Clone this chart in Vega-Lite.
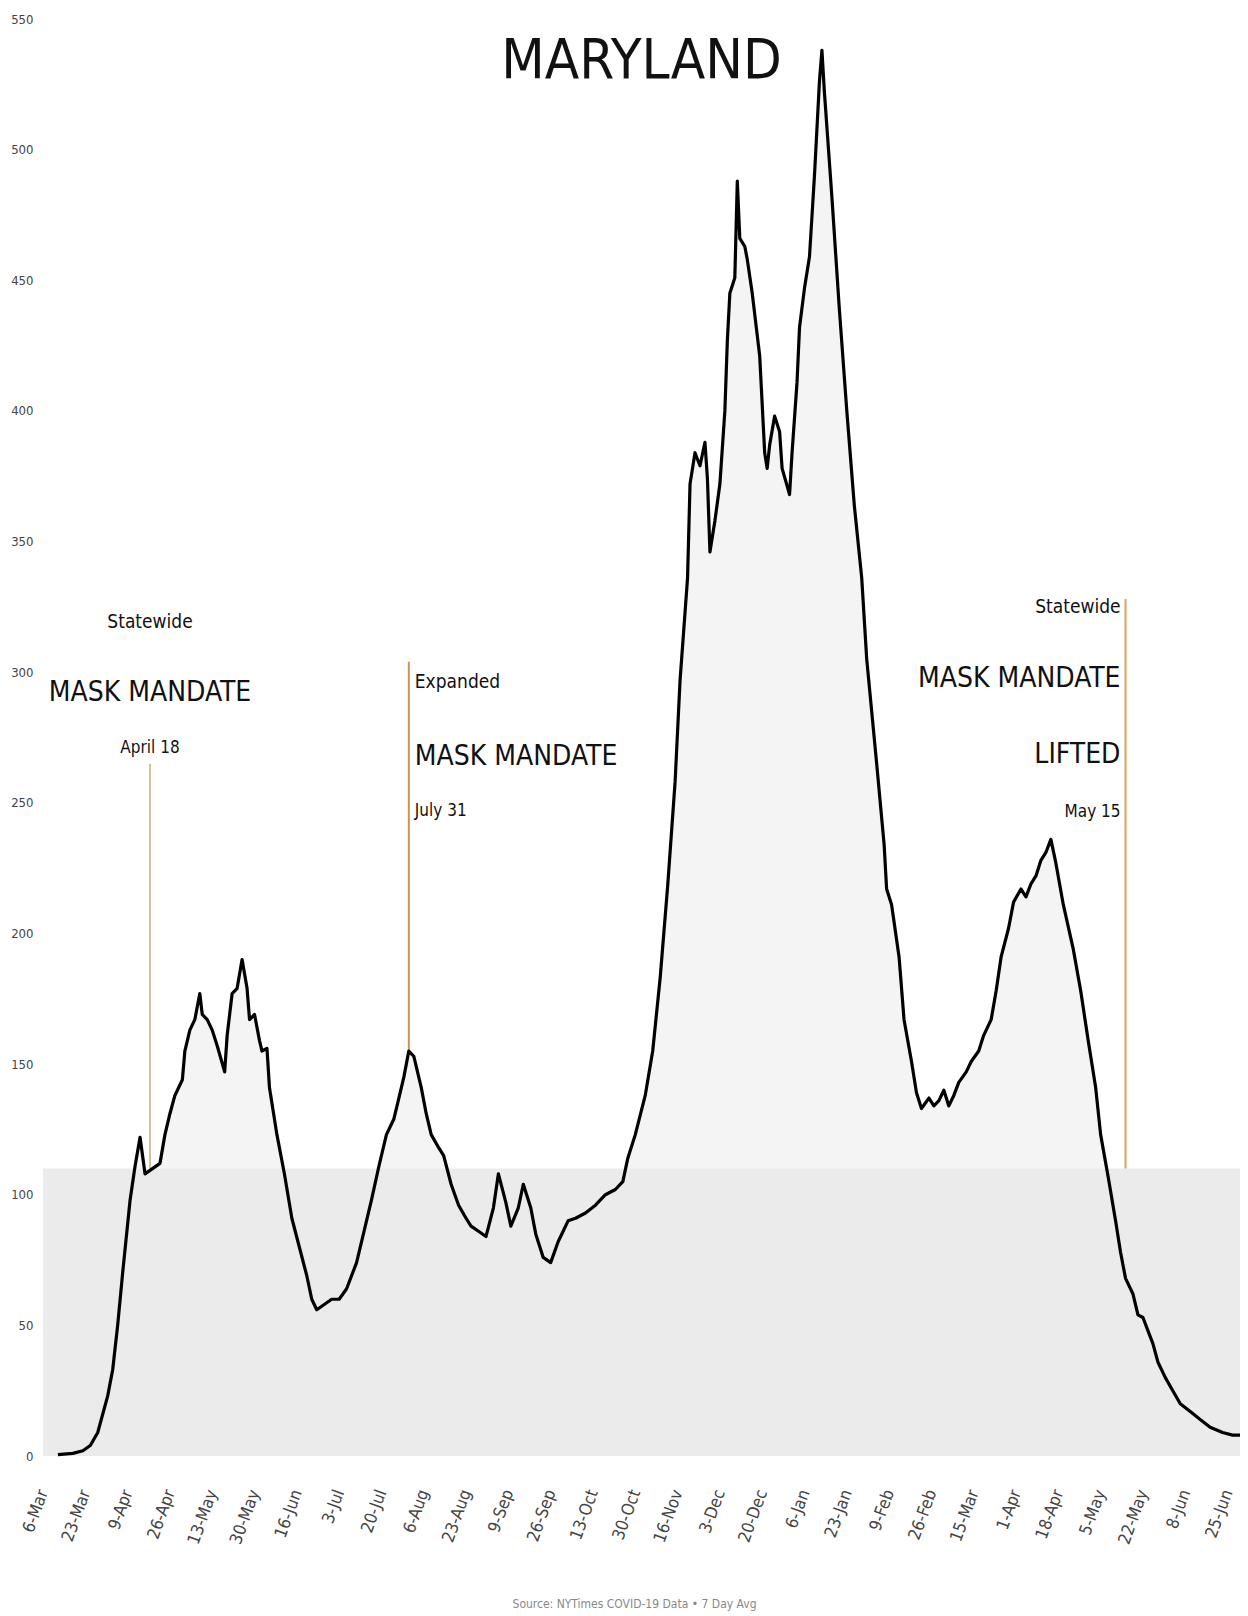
{
  "$schema": "https://vega.github.io/schema/vega-lite/v6.json",
  "autosize": "none",
  "width": 1197,
  "height": 1437,
  "padding": {"left": 43, "top": 19, "right": 8, "bottom": 160},
  "background": "white",
  "config": {"view": {"stroke": null}, "font": "DejaVu Sans Condensed, Liberation Sans, sans-serif"},
  "title": {"text": "MARYLAND", "font": "DejaVu Sans Condensed, Liberation Sans, sans-serif", "fontSize": 56, "fontWeight": "normal", "color": "#111", "anchor": "middle", "baseline": "alphabetic", "offset": -121},
  "datasets": {
    "cases": [
      {"date": "2020-03-12", "v": 0.5}, {"date": "2020-03-18", "v": 1}, {"date": "2020-03-22", "v": 2}, {"date": "2020-03-25", "v": 4}, {"date": "2020-03-28", "v": 9},
      {"date": "2020-04-01", "v": 23}, {"date": "2020-04-03", "v": 33}, {"date": "2020-04-05", "v": 50}, {"date": "2020-04-07", "v": 70}, {"date": "2020-04-10", "v": 98},
      {"date": "2020-04-12", "v": 111}, {"date": "2020-04-14", "v": 122}, {"date": "2020-04-16", "v": 108}, {"date": "2020-04-19", "v": 110}, {"date": "2020-04-22", "v": 112},
      {"date": "2020-04-24", "v": 123}, {"date": "2020-04-26", "v": 131}, {"date": "2020-04-28", "v": 138}, {"date": "2020-05-01", "v": 144}, {"date": "2020-05-02", "v": 155},
      {"date": "2020-05-04", "v": 163}, {"date": "2020-05-06", "v": 167}, {"date": "2020-05-08", "v": 177}, {"date": "2020-05-09", "v": 169}, {"date": "2020-05-11", "v": 167},
      {"date": "2020-05-13", "v": 163}, {"date": "2020-05-15", "v": 157}, {"date": "2020-05-18", "v": 147}, {"date": "2020-05-19", "v": 161}, {"date": "2020-05-21", "v": 177},
      {"date": "2020-05-23", "v": 179}, {"date": "2020-05-25", "v": 190}, {"date": "2020-05-27", "v": 179}, {"date": "2020-05-28", "v": 167}, {"date": "2020-05-30", "v": 169},
      {"date": "2020-06-01", "v": 159}, {"date": "2020-06-02", "v": 155}, {"date": "2020-06-04", "v": 156}, {"date": "2020-06-05", "v": 141}, {"date": "2020-06-08", "v": 123},
      {"date": "2020-06-11", "v": 108}, {"date": "2020-06-14", "v": 91}, {"date": "2020-06-17", "v": 80}, {"date": "2020-06-20", "v": 69}, {"date": "2020-06-22", "v": 60},
      {"date": "2020-06-24", "v": 56}, {"date": "2020-06-27", "v": 58}, {"date": "2020-06-30", "v": 60}, {"date": "2020-07-03", "v": 60}, {"date": "2020-07-06", "v": 64},
      {"date": "2020-07-10", "v": 74}, {"date": "2020-07-13", "v": 86}, {"date": "2020-07-16", "v": 98}, {"date": "2020-07-19", "v": 111}, {"date": "2020-07-22", "v": 123},
      {"date": "2020-07-25", "v": 129}, {"date": "2020-07-27", "v": 137}, {"date": "2020-07-29", "v": 145}, {"date": "2020-07-31", "v": 155}, {"date": "2020-08-02", "v": 153},
      {"date": "2020-08-03", "v": 149}, {"date": "2020-08-05", "v": 141}, {"date": "2020-08-07", "v": 131}, {"date": "2020-08-09", "v": 123}, {"date": "2020-08-12", "v": 118},
      {"date": "2020-08-14", "v": 115}, {"date": "2020-08-17", "v": 104}, {"date": "2020-08-20", "v": 96}, {"date": "2020-08-23", "v": 91}, {"date": "2020-08-25", "v": 88},
      {"date": "2020-08-28", "v": 86}, {"date": "2020-08-31", "v": 84}, {"date": "2020-09-03", "v": 95}, {"date": "2020-09-05", "v": 108}, {"date": "2020-09-08", "v": 97},
      {"date": "2020-09-10", "v": 88}, {"date": "2020-09-13", "v": 95}, {"date": "2020-09-15", "v": 104}, {"date": "2020-09-18", "v": 95}, {"date": "2020-09-20", "v": 85},
      {"date": "2020-09-23", "v": 76}, {"date": "2020-09-26", "v": 74}, {"date": "2020-09-29", "v": 82}, {"date": "2020-10-03", "v": 90}, {"date": "2020-10-06", "v": 91},
      {"date": "2020-10-10", "v": 93}, {"date": "2020-10-14", "v": 96}, {"date": "2020-10-18", "v": 100}, {"date": "2020-10-22", "v": 102}, {"date": "2020-10-25", "v": 105},
      {"date": "2020-10-27", "v": 114}, {"date": "2020-10-30", "v": 123}, {"date": "2020-11-03", "v": 138}, {"date": "2020-11-06", "v": 155}, {"date": "2020-11-09", "v": 183},
      {"date": "2020-11-12", "v": 218}, {"date": "2020-11-15", "v": 258}, {"date": "2020-11-17", "v": 297}, {"date": "2020-11-20", "v": 336}, {"date": "2020-11-21", "v": 372},
      {"date": "2020-11-23", "v": 384}, {"date": "2020-11-25", "v": 379}, {"date": "2020-11-27", "v": 388}, {"date": "2020-11-28", "v": 374}, {"date": "2020-11-29", "v": 346},
      {"date": "2020-12-01", "v": 358}, {"date": "2020-12-03", "v": 372}, {"date": "2020-12-05", "v": 400}, {"date": "2020-12-06", "v": 427}, {"date": "2020-12-07", "v": 445},
      {"date": "2020-12-09", "v": 451}, {"date": "2020-12-10", "v": 488}, {"date": "2020-12-11", "v": 466}, {"date": "2020-12-13", "v": 463}, {"date": "2020-12-14", "v": 458},
      {"date": "2020-12-16", "v": 445}, {"date": "2020-12-19", "v": 421}, {"date": "2020-12-21", "v": 384}, {"date": "2020-12-22", "v": 378}, {"date": "2020-12-23", "v": 387},
      {"date": "2020-12-25", "v": 398}, {"date": "2020-12-27", "v": 392}, {"date": "2020-12-28", "v": 378}, {"date": "2020-12-31", "v": 368}, {"date": "2021-01-01", "v": 384},
      {"date": "2021-01-03", "v": 411}, {"date": "2021-01-04", "v": 432}, {"date": "2021-01-06", "v": 447}, {"date": "2021-01-08", "v": 459}, {"date": "2021-01-10", "v": 490},
      {"date": "2021-01-12", "v": 526}, {"date": "2021-01-13", "v": 538}, {"date": "2021-01-14", "v": 522}, {"date": "2021-01-17", "v": 482}, {"date": "2021-01-20", "v": 439},
      {"date": "2021-01-23", "v": 400}, {"date": "2021-01-26", "v": 364}, {"date": "2021-01-29", "v": 336}, {"date": "2021-01-31", "v": 305}, {"date": "2021-02-04", "v": 265},
      {"date": "2021-02-07", "v": 234}, {"date": "2021-02-08", "v": 217}, {"date": "2021-02-10", "v": 211}, {"date": "2021-02-13", "v": 191}, {"date": "2021-02-15", "v": 167},
      {"date": "2021-02-18", "v": 151}, {"date": "2021-02-20", "v": 139}, {"date": "2021-02-22", "v": 133}, {"date": "2021-02-25", "v": 137}, {"date": "2021-02-27", "v": 134},
      {"date": "2021-03-01", "v": 136}, {"date": "2021-03-03", "v": 140}, {"date": "2021-03-05", "v": 134}, {"date": "2021-03-07", "v": 138}, {"date": "2021-03-09", "v": 143},
      {"date": "2021-03-12", "v": 147}, {"date": "2021-03-14", "v": 151}, {"date": "2021-03-17", "v": 155}, {"date": "2021-03-19", "v": 161}, {"date": "2021-03-22", "v": 167},
      {"date": "2021-03-24", "v": 178}, {"date": "2021-03-26", "v": 191}, {"date": "2021-03-29", "v": 202}, {"date": "2021-03-31", "v": 212}, {"date": "2021-04-03", "v": 217},
      {"date": "2021-04-05", "v": 214}, {"date": "2021-04-07", "v": 219}, {"date": "2021-04-09", "v": 222}, {"date": "2021-04-11", "v": 228}, {"date": "2021-04-13", "v": 231},
      {"date": "2021-04-15", "v": 236}, {"date": "2021-04-17", "v": 227}, {"date": "2021-04-20", "v": 211}, {"date": "2021-04-24", "v": 194}, {"date": "2021-04-27", "v": 178},
      {"date": "2021-04-30", "v": 159}, {"date": "2021-05-03", "v": 141}, {"date": "2021-05-05", "v": 123}, {"date": "2021-05-08", "v": 107}, {"date": "2021-05-11", "v": 90},
      {"date": "2021-05-13", "v": 78}, {"date": "2021-05-15", "v": 68}, {"date": "2021-05-18", "v": 62}, {"date": "2021-05-20", "v": 54}, {"date": "2021-05-22", "v": 53},
      {"date": "2021-05-24", "v": 48}, {"date": "2021-05-26", "v": 43}, {"date": "2021-05-28", "v": 36}, {"date": "2021-05-31", "v": 30}, {"date": "2021-06-03", "v": 25},
      {"date": "2021-06-06", "v": 20}, {"date": "2021-06-10", "v": 17}, {"date": "2021-06-14", "v": 14}, {"date": "2021-06-18", "v": 11}, {"date": "2021-06-23", "v": 9},
      {"date": "2021-06-27", "v": 8}, {"date": "2021-06-30", "v": 8}
    ],
    "events": [
      {"date": "2020-04-18", "top": 265, "event": "Statewide mask mandate"},
      {"date": "2020-07-31", "top": 304, "event": "Expanded mask mandate"},
      {"date": "2021-05-15", "top": 328, "event": "Mask mandate lifted"}
    ],
    "band": [
      {"start": "2020-03-06", "end": "2021-06-30", "low": 0, "high": 110}
    ],
    "notes": [
      {"date": "2020-04-18", "value": 317, "label": "Statewide", "side": "left", "kind": "small"},
      {"date": "2020-04-18", "value": 289, "label": "MASK MANDATE", "side": "left", "kind": "big"},
      {"date": "2020-04-18", "value": 269, "label": "April 18", "side": "left", "kind": "date"},
      {"date": "2020-07-31", "value": 294, "label": "Expanded", "side": "mid", "kind": "small"},
      {"date": "2020-07-31", "value": 264.5, "label": "MASK MANDATE", "side": "mid", "kind": "big"},
      {"date": "2020-07-31", "value": 245, "label": "July 31", "side": "mid", "kind": "date"},
      {"date": "2021-05-15", "value": 322.7, "label": "Statewide", "side": "right", "kind": "small"},
      {"date": "2021-05-15", "value": 294.3, "label": "MASK MANDATE", "side": "right", "kind": "big"},
      {"date": "2021-05-15", "value": 265.2, "label": "LIFTED", "side": "right", "kind": "big"},
      {"date": "2021-05-15", "value": 244.6, "label": "May 15", "side": "right", "kind": "date"}
    ]
  },
  "layer": [
    {
      "data": {"name": "events"},
      "mark": {"type": "rule", "strokeWidth": 2},
      "encoding": {
        "x": {"field": "date", "type": "temporal"},
        "y": {"field": "top", "type": "quantitative"},
        "y2": {"datum": 0},
        "color": {"field": "event", "type": "nominal", "legend": null,
          "scale": {"domain": ["Statewide mask mandate", "Expanded mask mandate", "Mask mandate lifted"], "range": ["#c9c59b", "#d4904e", "#e0a25c"]}}
      }
    },
    {
      "data": {"name": "cases"},
      "mark": {"type": "area", "color": "#f4f4f4", "interpolate": "linear"},
      "encoding": {
        "x": {"field": "date", "type": "temporal"},
        "y": {"field": "v", "type": "quantitative"}
      }
    },
    {
      "data": {"name": "band"},
      "mark": {"type": "rect", "color": "#ebebeb"},
      "encoding": {
        "x": {"field": "start", "type": "temporal"},
        "x2": {"field": "end"},
        "y": {"field": "low", "type": "quantitative"},
        "y2": {"field": "high"}
      }
    },
    {
      "data": {"name": "cases"},
      "mark": {"type": "line", "color": "#000000", "strokeWidth": 3.2, "strokeJoin": "round"},
      "encoding": {
        "x": {"field": "date", "type": "temporal",
          "scale": {"domain": [{"year": 2020, "month": 3, "date": 6}, {"year": 2021, "month": 6, "date": 30}], "nice": false},
          "axis": {
            "values": [
              {"year": 2020, "month": 3, "date": 6}, {"year": 2020, "month": 3, "date": 23}, {"year": 2020, "month": 4, "date": 9}, {"year": 2020, "month": 4, "date": 26},
              {"year": 2020, "month": 5, "date": 13}, {"year": 2020, "month": 5, "date": 30}, {"year": 2020, "month": 6, "date": 16}, {"year": 2020, "month": 7, "date": 3},
              {"year": 2020, "month": 7, "date": 20}, {"year": 2020, "month": 8, "date": 6}, {"year": 2020, "month": 8, "date": 23}, {"year": 2020, "month": 9, "date": 9},
              {"year": 2020, "month": 9, "date": 26}, {"year": 2020, "month": 10, "date": 13}, {"year": 2020, "month": 10, "date": 30}, {"year": 2020, "month": 11, "date": 16},
              {"year": 2020, "month": 12, "date": 3}, {"year": 2020, "month": 12, "date": 20}, {"year": 2021, "month": 1, "date": 6}, {"year": 2021, "month": 1, "date": 23},
              {"year": 2021, "month": 2, "date": 9}, {"year": 2021, "month": 2, "date": 26}, {"year": 2021, "month": 3, "date": 15}, {"year": 2021, "month": 4, "date": 1},
              {"year": 2021, "month": 4, "date": 18}, {"year": 2021, "month": 5, "date": 5}, {"year": 2021, "month": 5, "date": 22}, {"year": 2021, "month": 6, "date": 8},
              {"year": 2021, "month": 6, "date": 25}
            ],
            "format": "%-d-%b",
            "labelAngle": -70,
            "labelFontSize": 17,
            "labelColor": "#444",
            "labelPadding": 34,
            "labelOverlap": false,
            "labelFlush": false,
            "grid": false,
            "domain": false,
            "ticks": false,
            "title": "Source: NYTimes COVID-19 Data \u2022 7 Day Avg",
            "titleFontSize": 12,
            "titleFontWeight": "normal",
            "titleColor": "#888",
            "titleBaseline": "alphabetic",
            "titleY": 151,
            "titleX": 591,
            "titleAnchor": "middle"
          }
        },
        "y": {"field": "v", "type": "quantitative",
          "scale": {"domain": [0, 550], "nice": false},
          "axis": {"values": [0, 50, 100, 150, 200, 250, 300, 350, 400, 450, 500, 550], "grid": false, "domain": false, "ticks": false,
            "labelFontSize": 13, "labelColor": "#444", "labelPadding": 10, "title": null}
        }
      }
    },
    {
      "data": {"name": "notes"},
      "transform": [{"filter": "datum.side === 'left'"}],
      "mark": {"type": "text", "align": "center", "baseline": "alphabetic", "color": "#111"},
      "encoding": {
        "x": {"field": "date", "type": "temporal"},
        "y": {"field": "value", "type": "quantitative"},
        "text": {"field": "label", "type": "nominal"},
        "size": {"field": "kind", "type": "nominal", "legend": null, "scale": {"type": "ordinal", "domain": ["small", "big", "date"], "range": [19, 28, 17]}}
      }
    },
    {
      "data": {"name": "notes"},
      "transform": [{"filter": "datum.side === 'mid'"}],
      "mark": {"type": "text", "align": "left", "dx": 6, "baseline": "alphabetic", "color": "#111"},
      "encoding": {
        "x": {"field": "date", "type": "temporal"},
        "y": {"field": "value", "type": "quantitative"},
        "text": {"field": "label", "type": "nominal"},
        "size": {"field": "kind", "type": "nominal", "legend": null, "scale": {"type": "ordinal", "domain": ["small", "big", "date"], "range": [19, 28, 17]}}
      }
    },
    {
      "data": {"name": "notes"},
      "transform": [{"filter": "datum.side === 'right'"}],
      "mark": {"type": "text", "align": "right", "dx": -5, "baseline": "alphabetic", "color": "#111"},
      "encoding": {
        "x": {"field": "date", "type": "temporal"},
        "y": {"field": "value", "type": "quantitative"},
        "text": {"field": "label", "type": "nominal"},
        "size": {"field": "kind", "type": "nominal", "legend": null, "scale": {"type": "ordinal", "domain": ["small", "big", "date"], "range": [19, 28, 17]}}
      }
    }
  ]
}
